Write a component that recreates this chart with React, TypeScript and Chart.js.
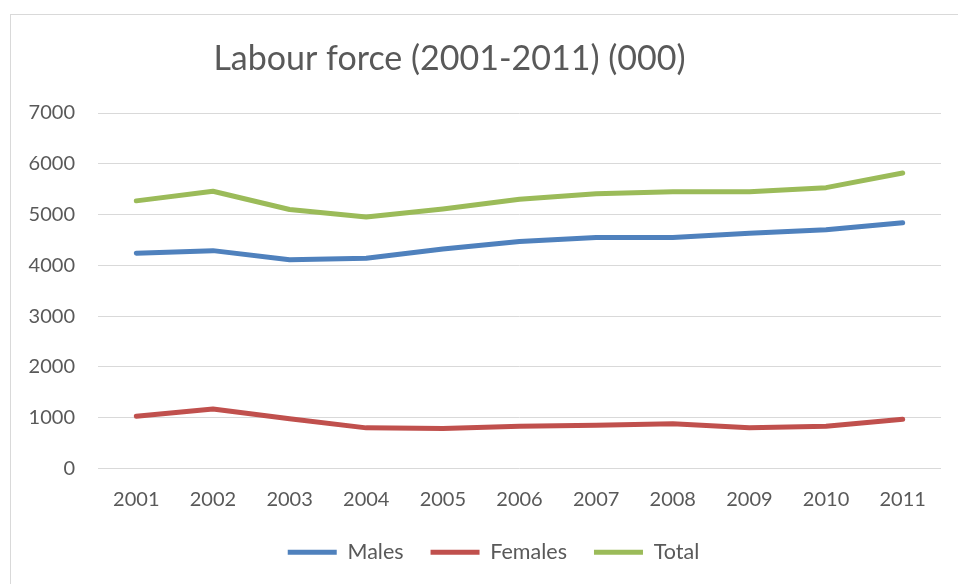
import { useEffect, useRef } from "react";
import { Chart, registerables } from "chart.js";

Chart.register(...registerables);

// Labour force by sex, thousands of persons
const years = ["2001", "2002", "2003", "2004", "2005", "2006", "2007", "2008", "2009", "2010", "2011"];
const males = [4240, 4290, 4110, 4140, 4320, 4470, 4550, 4550, 4630, 4700, 4840];
const females = [1030, 1170, 980, 800, 790, 830, 850, 880, 800, 830, 970];
const total = [5270, 5460, 5100, 4950, 5110, 5300, 5410, 5450, 5450, 5530, 5820];

const yMin = 0;
const yMax = 7000;
const yStep = 1000;

const titleText = "Labour force (2001-2011) (000)";

const FONT = "Lato, 'Open Sans', sans-serif";
const TEXT = "#595959";
const GRID = "#D9D9D9";

// Title drawn over the frame, centred where the heading sits in the layout
const headingPlugin = {
  id: "heading",
  afterDraw(chart: Chart) {
    const ctx = chart.ctx;
    ctx.save();
    ctx.font = `34px ${FONT}`;
    ctx.fillStyle = TEXT;
    ctx.textAlign = "center";
    ctx.textBaseline = "alphabetic";
    ctx.fillText(titleText, 449.5, 70);
    ctx.restore();
  },
};

// Nudge the bottom legend so it is centred under the plot rather than the canvas
const legendOffsetPlugin = {
  id: "legendOffset",
  afterLayout(chart: Chart) {
    const lg: any = (chart as any).legend;
    if (lg) {
      lg.left += 13;
      lg.right += 13;
    }
  },
};

export default function App() {
  const canvasRef = useRef<HTMLCanvasElement | null>(null);

  useEffect(() => {
    if (!canvasRef.current) return;
    const line = (label: string, data: number[], color: string) => ({
      label,
      data,
      borderColor: color,
      backgroundColor: color,
      borderWidth: 5,
      borderCapStyle: "round" as const,
      borderJoinStyle: "round" as const,
      pointRadius: 0,
      pointHoverRadius: 0,
      tension: 0,
      fill: false,
    });

    const chart = new Chart(canvasRef.current, {
      type: "line",
      data: {
        labels: years,
        datasets: [
          line("Males", males, "#4F81BD"),
          line("Females", females, "#C0504D"),
          line("Total", total, "#9BBB59"),
        ],
      },
      options: {
        animation: false,
        responsive: false,
        devicePixelRatio: 1,
        layout: { padding: { top: 113, left: 20, right: 17, bottom: 11 } },
        plugins: {
          title: { display: false },
          tooltip: { enabled: false },
          legend: {
            position: "bottom",
            labels: {
              usePointStyle: true,
              pointStyle: "line",
              pointStyleWidth: 49,
              padding: 27,
              color: TEXT,
              font: { family: FONT, size: 21.5 },
            },
          },
        },
        scales: {
          x: {
            offset: true,
            grid: { display: false, drawTicks: false },
            border: { display: false },
            ticks: {
              color: TEXT,
              font: { family: FONT, size: 20 },
              padding: 19,
              maxRotation: 0,
            },
            afterFit(scale: any) {
              scale.height = 46;
            },
          },
          y: {
            min: yMin,
            max: yMax,
            grid: { color: GRID, lineWidth: 1, drawTicks: false },
            border: { display: false },
            ticks: {
              stepSize: yStep,
              color: TEXT,
              font: { family: FONT, size: 20 },
              padding: 23,
              callback: (value: any) => String(value),
            },
            afterFit(scale: any) {
              scale.width = 78;
            },
          },
        },
      },
      plugins: [headingPlugin, legendOffsetPlugin],
    });
    return () => chart.destroy();
  }, []);

  return (
    <div
      style={{
        position: "fixed",
        left: 0,
        top: 0,
        width: 958,
        height: 584,
        background: "#fff",
        overflow: "hidden",
      }}
    >
      <div
        style={{
          position: "absolute",
          left: 10,
          top: 14,
          width: 1000,
          height: 700,
          borderLeft: `1px solid ${GRID}`,
          borderTop: `1px solid ${GRID}`,
        }}
      />
      <canvas
        ref={canvasRef}
        width={958}
        height={584}
        style={{ position: "absolute", left: 0, top: 0 }}
      />
    </div>
  );
}
